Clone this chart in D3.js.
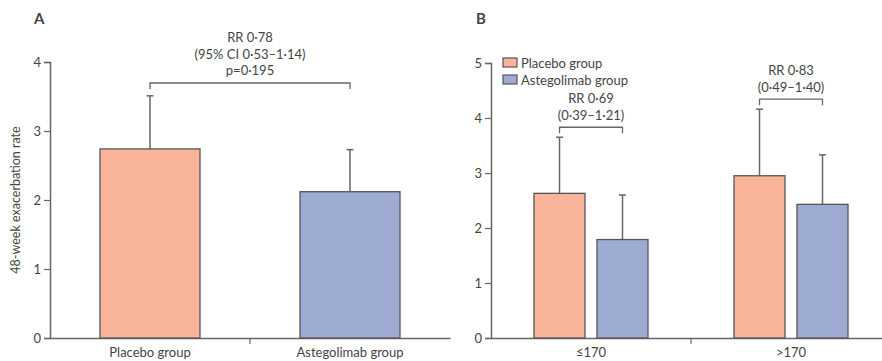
<!DOCTYPE html>
<html><head><meta charset="utf-8">
<script src="https://cdn.jsdelivr.net/npm/d3@7"></script>
<style>
body{margin:0;background:#fff;}
svg text{font-family:Lato,"Liberation Sans",sans-serif;fill:#444;}
</style></head>
<body><svg id="c" width="882" height="361"></svg>
<script>
// Panel A data
const groupsA = ["Placebo group", "Astegolimab group"];
const ratesA = [2.74, 2.12];
const upperA = [3.51, 2.73];
const ticksA = [0, 1, 2, 3, 4];
const annotA = ["RR 0·78", "(95% CI 0·53–1·14)", "p=0·195"];

// Panel B data
const subgroupsB = ["≤170", ">170"];
const seriesB = ["Placebo group", "Astegolimab group"];
const placeboB = [2.63, 2.95];
const placeboUpperB = [3.65, 4.16];
const astegB = [1.79, 2.43];
const astegUpperB = [2.60, 3.33];
const ticksB = [0, 1, 2, 3, 4, 5];
const annotB = [["RR 0·69", "(0·39–1·21)"], ["RR 0·83", "(0·49–1·40)"]];

const colors = ["#f9b49a", "#9eacd4"];
const strokeC = "#555";
const axisC = "#666";
const FS = 13;

const svg = d3.select("#c");

function styleAxis(g){
  g.select(".domain").attr("stroke", axisC).attr("stroke-width", 1.5);
  g.selectAll(".tick line").attr("stroke", axisC).attr("stroke-width", 1.2);
  g.selectAll(".tick text").attr("font-size", FS).attr("fill", "#444")
   .style("font-family", 'Lato,"Liberation Sans",sans-serif');
}

// ---------- Panel A ----------
const xA = d3.scaleBand().domain(groupsA).range([50, 450]).paddingInner(0).paddingOuter(0);
const yA = d3.scaleLinear().domain([0, 4]).range([338, 62]);

const gA = svg.append("g");
gA.append("g").attr("transform", "translate(50,0)")
  .call(d3.axisLeft(yA).tickValues(ticksA).tickFormat(d3.format("d")).tickSizeOuter(0).tickSize(6))
  .call(styleAxis);
gA.append("g").attr("transform", "translate(0,338)")
  .call(d3.axisBottom(xA).tickSize(0).tickSizeOuter(0))
  .call(g => { styleAxis(g); g.selectAll(".tick text").attr("dy", "1.25em"); });
gA.append("line").attr("x1", xA(groupsA[1])).attr("x2", xA(groupsA[1]))
  .attr("y1", 338).attr("y2", 344).attr("stroke", axisC).attr("stroke-width", 1.2);

const bwA = 100;
groupsA.forEach((g, i) => {
  const cx = xA(g) + xA.bandwidth() / 2;
  gA.append("line").attr("x1", cx).attr("x2", cx).attr("y1", yA(ratesA[i])).attr("y2", yA(upperA[i]))
    .attr("stroke", axisC).attr("stroke-width", 1.5);
  gA.append("line").attr("x1", cx - 3.5).attr("x2", cx + 3.5).attr("y1", yA(upperA[i])).attr("y2", yA(upperA[i]))
    .attr("stroke", axisC).attr("stroke-width", 1.5);
  gA.append("rect").attr("x", cx - bwA / 2).attr("y", yA(ratesA[i]))
    .attr("width", bwA).attr("height", yA(0) - yA(ratesA[i]))
    .attr("fill", colors[i]).attr("stroke", strokeC).attr("stroke-width", 1.3);
});
{
  const x1 = xA(groupsA[0]) + xA.bandwidth() / 2, x2 = xA(groupsA[1]) + xA.bandwidth() / 2;
  const yb = 83;
  gA.append("path").attr("d", `M${x1},${yb + 6}V${yb}H${x2}V${yb + 6}`)
    .attr("fill", "none").attr("stroke", axisC).attr("stroke-width", 1.3);
  annotA.forEach((t, k) => gA.append("text").attr("x", (x1 + x2) / 2).attr("y", 42 + k * 16.5)
    .attr("text-anchor", "middle").attr("font-size", FS).text(t));
}
gA.append("text").attr("x", 34).attr("y", 24).attr("font-size", 15).attr("font-weight", "bold")
  .attr("fill", "#333").text("A");
gA.append("text").attr("transform", "translate(20,200) rotate(-90)").attr("text-anchor", "middle")
  .attr("font-size", 12.5).text("48-week exacerbation rate");

// ---------- Panel B ----------
const xB = d3.scaleBand().domain(subgroupsB).range([491, 891]);
const xInner = d3.scaleBand().domain(seriesB).range([0, 114]).paddingInner(0.19);
const yB = d3.scaleLinear().domain([0, 5]).range([338, 63]);

const gB = svg.append("g");
gB.append("g").attr("transform", "translate(491,0)")
  .call(d3.axisLeft(yB).tickValues(ticksB).tickFormat(d3.format("d")).tickSizeOuter(0).tickSize(6))
  .call(styleAxis);
gB.append("g").attr("transform", "translate(0,338)")
  .call(d3.axisBottom(xB).tickSize(0).tickSizeOuter(0))
  .call(g => { styleAxis(g); g.selectAll(".tick text").attr("dy", "1.25em"); });
gB.append("line").attr("x1", xB(subgroupsB[1])).attr("x2", xB(subgroupsB[1]))
  .attr("y1", 338).attr("y2", 344).attr("stroke", axisC).attr("stroke-width", 1.2);

const valsB = [placeboB, astegB], upsB = [placeboUpperB, astegUpperB];
subgroupsB.forEach((sg, j) => {
  const off = xB(sg) + (xB.bandwidth() - 114) / 2;
  const centers = [];
  seriesB.forEach((s, i) => {
    const x0 = off + xInner(s), w = xInner.bandwidth(), cx = x0 + w / 2;
    centers.push(cx);
    const v = valsB[i][j], u = upsB[i][j];
    gB.append("line").attr("x1", cx).attr("x2", cx).attr("y1", yB(v)).attr("y2", yB(u))
      .attr("stroke", axisC).attr("stroke-width", 1.5);
    gB.append("line").attr("x1", cx - 3.5).attr("x2", cx + 3.5).attr("y1", yB(u)).attr("y2", yB(u))
      .attr("stroke", axisC).attr("stroke-width", 1.5);
    gB.append("rect").attr("x", x0).attr("y", yB(v)).attr("width", w).attr("height", yB(0) - yB(v))
      .attr("fill", colors[i]).attr("stroke", strokeC).attr("stroke-width", 1.3);
  });
  const top = Math.max(upsB[0][j], upsB[1][j]);
  const yb = yB(top) - 10;
  gB.append("path").attr("d", `M${centers[0]},${yb + 6}V${yb}H${centers[1]}V${yb + 6}`)
    .attr("fill", "none").attr("stroke", axisC).attr("stroke-width", 1.3);
  const mx = (centers[0] + centers[1]) / 2;
  annotB[j].forEach((t, k) => gB.append("text").attr("x", mx).attr("y", yb - 24 + k * 16.5)
    .attr("text-anchor", "middle").attr("font-size", FS).text(t));
});
seriesB.forEach((s, i) => {
  const ly = 58 + i * 17;
  gB.append("rect").attr("x", 503).attr("y", ly).attr("width", 14).attr("height", 9)
    .attr("fill", colors[i]).attr("stroke", strokeC).attr("stroke-width", 1.2);
  gB.append("text").attr("x", 521).attr("y", ly + 9.5).attr("font-size", FS).text(s);
});
gB.append("text").attr("x", 476).attr("y", 24).attr("font-size", 15).attr("font-weight", "bold")
  .attr("fill", "#333").text("B");
</script></body></html>
